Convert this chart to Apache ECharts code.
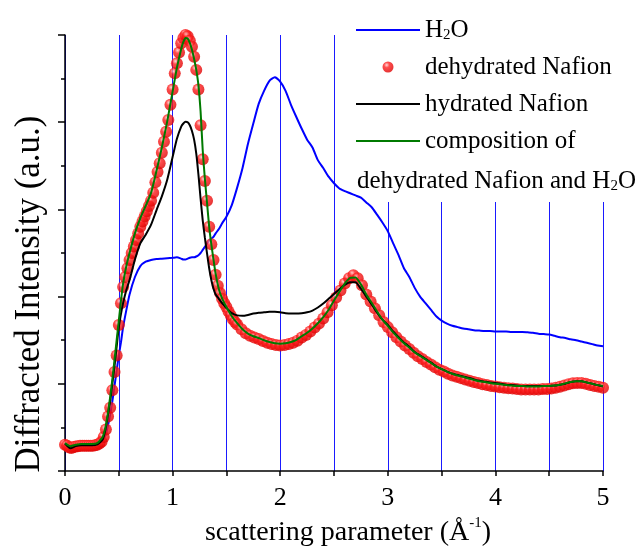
<!DOCTYPE html>
<html>
<head>
<meta charset="utf-8">
<title>Diffracted intensity of Nafion and H2O</title>
<script src="https://cdn.jsdelivr.net/npm/echarts@6/dist/echarts.min.js"></script>
<style>
  html, body { margin: 0; padding: 0; background: #fff; }
  #chart { width: 639px; height: 556px; }
</style>
</head>
<body>
<div id="chart"></div>
<script>
// scattering parameter, 1/Å, for the three line curves
const q = [
  0, 0.05, 0.1, 0.15, 0.2, 0.25, 0.3, 0.35, 0.38, 0.4,
  0.42, 0.44, 0.46, 0.48, 0.5, 0.52, 0.54, 0.57, 0.6, 0.65,
  0.7, 0.75, 0.8, 0.85, 0.9, 0.95, 1, 1.04, 1.08, 1.1,
  1.12, 1.14, 1.16, 1.18, 1.2, 1.22, 1.24, 1.26, 1.28, 1.3,
  1.32, 1.34, 1.36, 1.38, 1.4, 1.43, 1.46, 1.5, 1.55, 1.6,
  1.65, 1.7, 1.75, 1.8, 1.85, 1.9, 1.95, 2, 2.05, 2.1,
  2.15, 2.2, 2.25, 2.3, 2.35, 2.4, 2.45, 2.5, 2.55, 2.6,
  2.65, 2.7, 2.75, 2.8, 2.85, 2.9, 2.95, 3, 3.05, 3.1,
  3.15, 3.2, 3.25, 3.3, 3.35, 3.4, 3.45, 3.5, 3.55, 3.6,
  3.65, 3.7, 3.75, 3.8, 3.85, 3.9, 3.95, 4, 4.05, 4.1,
  4.15, 4.2, 4.25, 4.3, 4.35, 4.4, 4.45, 4.5, 4.55, 4.6,
  4.65, 4.7, 4.75, 4.8, 4.85, 4.9, 4.95, 5
];

const h2o = [
  0.62, 0.55, 0.58, 0.60, 0.60, 0.60, 0.62, 0.70, 0.85, 1.05,
  1.30, 1.60, 1.95, 2.30, 2.65, 2.95, 3.30, 3.69, 4.05, 4.45,
  4.70, 4.80, 4.84, 4.86, 4.87, 4.88, 4.89, 4.90, 4.87, 4.85,
  4.85, 4.87, 4.89, 4.90, 4.90, 4.92, 4.95, 5.00, 5.07, 5.14,
  5.22, 5.28, 5.33, 5.37, 5.45, 5.55, 5.68, 5.83, 6.10, 6.50,
  6.95, 7.50, 7.97, 8.42, 8.72, 8.95, 9.03, 8.93, 8.72, 8.40,
  8.12, 7.85, 7.60, 7.42, 7.13, 6.95, 6.75, 6.60, 6.48, 6.42,
  6.37, 6.32, 6.27, 6.16, 6.05, 5.88, 5.70, 5.50, 5.22, 4.95,
  4.65, 4.45, 4.20, 4.00, 3.85, 3.70, 3.55, 3.45, 3.38, 3.33,
  3.30, 3.27, 3.25, 3.23, 3.22, 3.21, 3.21, 3.20, 3.20, 3.20,
  3.19, 3.19, 3.19, 3.18, 3.17, 3.15, 3.14, 3.13, 3.10, 3.07,
  3.05, 3.02, 3.00, 2.97, 2.94, 2.91, 2.88, 2.86
];

const hydrated = [
  0.63, 0.52, 0.57, 0.59, 0.59, 0.59, 0.61, 0.72, 1.00, 1.30,
  1.60, 2.00, 2.40, 2.85, 3.30, 3.60, 3.85, 4.15, 4.38, 4.85,
  5.22, 5.42, 5.65, 5.98, 6.30, 6.68, 7.20, 7.62, 7.90, 7.97,
  8.01, 8.00, 7.93, 7.80, 7.60, 7.28, 6.80, 6.25, 5.75, 5.35,
  4.99, 4.65, 4.38, 4.18, 4.05, 3.95, 3.85, 3.74, 3.62, 3.57,
  3.56, 3.58, 3.61, 3.63, 3.64, 3.65, 3.65, 3.64, 3.62, 3.61,
  3.61, 3.62, 3.64, 3.68, 3.75, 3.84, 3.95, 4.06, 4.17, 4.27,
  4.33, 4.33, 4.18, 4.00, 3.82, 3.63, 3.47, 3.35, 3.20, 3.07,
  2.95, 2.85, 2.73, 2.65, 2.57, 2.49, 2.40, 2.34, 2.28, 2.23,
  2.20, 2.17, 2.14, 2.10, 2.07, 2.05, 2.03, 2.02, 2.00, 1.98,
  1.97, 1.96, 1.95, 1.95, 1.95, 1.95, 1.95, 1.95, 1.96, 1.98,
  2.00, 2.04, 2.06, 2.06, 2.03, 2.00, 1.97, 1.94
];

const composition = [
  0.64, 0.57, 0.60, 0.62, 0.62, 0.62, 0.64, 0.78, 1.05, 1.35,
  1.70, 2.10, 2.55, 3.00, 3.45, 3.90, 4.30, 4.70, 5.00, 5.45,
  5.80, 6.08, 6.38, 6.88, 7.42, 8.02, 8.70, 9.25, 9.68, 9.84,
  9.93, 9.92, 9.82, 9.66, 9.45, 9.20, 8.85, 8.25, 7.35, 6.70,
  6.15, 5.60, 5.20, 4.85, 4.52, 4.17, 3.96, 3.76, 3.55, 3.39,
  3.25, 3.15, 3.09, 3.05, 3.00, 2.96, 2.93, 2.92, 2.93, 2.96,
  3.01, 3.09, 3.17, 3.27, 3.39, 3.53, 3.70, 3.91, 4.11, 4.30,
  4.43, 4.44, 4.28, 4.05, 3.86, 3.66, 3.47, 3.33, 3.18, 3.05,
  2.93, 2.83, 2.72, 2.64, 2.56, 2.48, 2.40, 2.34, 2.28, 2.23,
  2.19, 2.16, 2.12, 2.09, 2.06, 2.04, 2.02, 2.00, 1.99, 1.97,
  1.96, 1.95, 1.95, 1.94, 1.94, 1.94, 1.95, 1.95, 1.96, 1.98,
  2.01, 2.04, 2.06, 2.06, 2.03, 2.00, 1.97, 1.95
];

// the measured dehydrated points are denser
const qDehydrated = [
  0, 0.02, 0.04, 0.06, 0.08, 0.1, 0.12, 0.14, 0.16, 0.18,
  0.2, 0.22, 0.24, 0.26, 0.28, 0.3, 0.32, 0.34, 0.36, 0.38,
  0.4, 0.42, 0.44, 0.46, 0.48, 0.5, 0.52, 0.54, 0.56, 0.58,
  0.6, 0.62, 0.64, 0.66, 0.68, 0.7, 0.72, 0.74, 0.76, 0.78,
  0.8, 0.82, 0.84, 0.86, 0.88, 0.9, 0.92, 0.94, 0.96, 0.98,
  1, 1.02, 1.04, 1.06, 1.08, 1.1, 1.12, 1.14, 1.16, 1.18,
  1.2, 1.22, 1.24, 1.26, 1.28, 1.3, 1.32, 1.34, 1.36, 1.38,
  1.4, 1.42, 1.44, 1.46, 1.48, 1.5, 1.52, 1.54, 1.56, 1.58,
  1.6,
  1.64, 1.68, 1.72, 1.76, 1.8, 1.84, 1.88, 1.92, 1.96, 2,
  2.04, 2.08, 2.12, 2.16, 2.2, 2.24, 2.28, 2.32, 2.36, 2.4,
  2.44, 2.48, 2.52, 2.56, 2.6, 2.64, 2.68, 2.72, 2.76, 2.8,
  2.84, 2.88, 2.92, 2.96, 3, 3.04, 3.08, 3.12, 3.16, 3.2,
  3.24, 3.28, 3.32, 3.36, 3.4, 3.44, 3.48, 3.52, 3.56, 3.6,
  3.64, 3.68, 3.72, 3.76, 3.8, 3.84, 3.88, 3.92, 3.96, 4,
  4.04, 4.08, 4.12, 4.16, 4.2, 4.24, 4.28, 4.32, 4.36, 4.4,
  4.44, 4.48, 4.52, 4.56, 4.6, 4.64, 4.68, 4.72, 4.76, 4.8,
  4.84, 4.88, 4.92, 4.96, 5
];

const dehydrated = [
  0.60, 0.58, 0.54, 0.53, 0.55, 0.56, 0.57, 0.58, 0.58, 0.58,
  0.58, 0.58, 0.58, 0.58, 0.59, 0.60, 0.63, 0.67, 0.78, 0.95,
  1.25, 1.45, 1.85, 2.27, 2.65, 3.35, 3.85, 4.22, 4.45, 4.65,
  4.84, 5.00, 5.15, 5.30, 5.45, 5.60, 5.72, 5.84, 5.96, 6.08,
  6.20, 6.38, 6.62, 6.86, 7.06, 7.30, 7.55, 7.78, 8.05, 8.40,
  8.75, 9.12, 9.35, 9.60, 9.81, 9.93, 10.0, 9.97, 9.87, 9.73,
  9.50, 9.20, 8.75, 7.93, 7.15, 6.65, 6.20, 5.60, 5.20, 4.84,
  4.50, 4.25, 4.08, 3.95, 3.85, 3.76, 3.66, 3.57, 3.48, 3.42,
  3.36,
  3.25, 3.16, 3.10, 3.06, 3.03, 2.98, 2.94, 2.91, 2.89, 2.88,
  2.89, 2.91, 2.94, 2.99, 3.06, 3.12, 3.20, 3.29, 3.38, 3.50,
  3.64, 3.80, 3.98, 4.14, 4.30, 4.42, 4.49, 4.42, 4.26, 4.05,
  3.89, 3.73, 3.57, 3.42, 3.30, 3.18, 3.07, 2.97, 2.88, 2.80,
  2.71, 2.63, 2.57, 2.50, 2.44, 2.38, 2.32, 2.28, 2.23, 2.19,
  2.16, 2.13, 2.10, 2.07, 2.04, 2.02, 1.99, 1.97, 1.95, 1.94,
  1.92, 1.91, 1.90, 1.89, 1.88, 1.87, 1.87, 1.87, 1.87, 1.87,
  1.88, 1.88, 1.89, 1.91, 1.93, 1.96, 1.99, 2.01, 2.02, 2.02,
  2.00, 1.97, 1.95, 1.93, 1.91
];

const qTicks = [0, 1, 2, 3, 4, 5];
const intensityTicks = [0, 2, 4, 6, 8, 10];

const names = ['H2O', 'dehydrated Nafion', 'hydrated Nafion', 'composition of dehydrated Nafion and H2O'];

const serif = "'Liberation Serif', 'Times New Roman', serif";
const lineIcon = 'path://M0 0H64V2.2H0Z';
const pairs = (xs, ys) => xs.map((x, i) => [x, ys[i]]);

const chart = echarts.init(document.getElementById('chart'));

chart.setOption({
    animation: false,
    backgroundColor: '#fff',
    grid: { left: 65, right: 36, top: 35, bottom: 85, outerBoundsMode: 'none' },
    legend: {
        data: names.map((n, i) => i === 1 ? { name: n } : { name: n, icon: lineIcon }),
        orient: 'vertical',
        left: 348,
        top: 9,
        z: 1,
        padding: [8, 30, 48, 8],
        backgroundColor: '#fff',
        itemWidth: 64,
        itemHeight: 11,
        itemGap: 11,
        selectedMode: false,
        formatter: name => {
            if (name === names[0]) return 'H{sub|2}O';
            if (name === names[3]) return 'composition of';
            return name;
        },
        textStyle: {
            fontFamily: serif, fontSize: 25, color: '#000', lineHeight: 26,
            rich: { sub: { fontFamily: serif, fontSize: 15, color: '#000', lineHeight: 6, verticalAlign: 'bottom' } }
        }
    },
    graphic: [{
        type: 'text',
        left: 357,
        top: 168,
        z: 100,
        style: {
            text: 'dehydrated Nafion and H{sub|2}O',
            fontFamily: serif, fontSize: 25, fill: '#000', lineHeight: 26,
            rich: { sub: { fontFamily: serif, fontSize: 15, fill: '#000', lineHeight: 6, verticalAlign: 'bottom' } }
        }
    }],
    xAxis: {
        type: 'value',
        min: qTicks[0],
        max: qTicks[qTicks.length - 1],
        interval: qTicks[1] - qTicks[0],
        name: '{t|scattering parameter (Å}{sup|-1}{t|)}',
        nameLocation: 'middle',
        nameGap: 40,
        nameTextStyle: {
            padding: [0, 0, 0, 28],
            rich: {
                t: { fontFamily: serif, fontSize: 28, color: '#000', lineHeight: 34 },
                sup: { fontFamily: serif, fontSize: 15, color: '#000', lineHeight: 8, verticalAlign: 'top' }
            }
        },
        axisLine: { show: true, onZero: false, lineStyle: { color: '#000', width: 1.5 } },
        axisTick: { show: true, inside: false, length: 5, lineStyle: { color: '#000', width: 1.5 } },
        minorTick: { show: true, splitNumber: 2, length: 5, lineStyle: { color: '#000', width: 1.5 } },
        axisLabel: { fontFamily: serif, fontSize: 26, color: '#000', margin: 14 },
        splitLine: { show: true, lineStyle: { color: '#1a1aff', width: 1 } },
        minorSplitLine: { show: true, lineStyle: { color: '#1a1aff', width: 1 } }
    },
    yAxis: {
        type: 'value',
        min: intensityTicks[0],
        max: intensityTicks[intensityTicks.length - 1],
        interval: intensityTicks[1] - intensityTicks[0],
        name: 'Diffracted Intensity (a.u.)',
        nameLocation: 'middle',
        nameGap: 18,
        nameTextStyle: { fontFamily: serif, fontSize: 35, color: '#000', padding: [0, 82, 0, 0] },
        axisLine: { show: true, onZero: false, lineStyle: { color: '#000', width: 1.5 } },
        axisTick: { show: true, inside: false, length: 7, lineStyle: { color: '#000', width: 1.5 } },
        minorTick: { show: true, splitNumber: 2, length: 4, lineStyle: { color: '#000', width: 1.5 } },
        axisLabel: { show: false },
        splitLine: { show: false }
    },
    series: [
        {
            name: names[0],
            type: 'line',
            data: pairs(q, h2o),
            showSymbol: false,
            symbol: 'none',
            smooth: 0.2,
            clip: false,
            z: 2,
            lineStyle: { color: '#0000ff', width: 2 },
            itemStyle: { color: '#0000ff' }
        },
        {
            name: names[1],
            type: 'scatter',
            data: pairs(qDehydrated, dehydrated),
            symbol: 'circle',
            symbolSize: 12,
            clip: false,
            z: 3,
            itemStyle: {
                color: {
                    type: 'radial', x: 0.38, y: 0.32, r: 0.7,
                    colorStops: [
                        { offset: 0, color: '#ffd0d0' },
                        { offset: 0.35, color: '#ff2020' },
                        { offset: 1, color: '#dd0000' }
                    ]
                }
            }
        },
        {
            name: names[2],
            type: 'line',
            data: pairs(q, hydrated),
            showSymbol: false,
            symbol: 'none',
            smooth: 0.2,
            clip: false,
            z: 4,
            lineStyle: { color: '#000', width: 2 },
            itemStyle: { color: '#000' }
        },
        {
            name: names[3],
            type: 'line',
            data: pairs(q, composition),
            showSymbol: false,
            symbol: 'none',
            smooth: 0.2,
            clip: false,
            z: 5,
            lineStyle: { color: '#007a00', width: 2 },
            itemStyle: { color: '#007a00' }
        }
    ]
});
</script>
</body>
</html>
